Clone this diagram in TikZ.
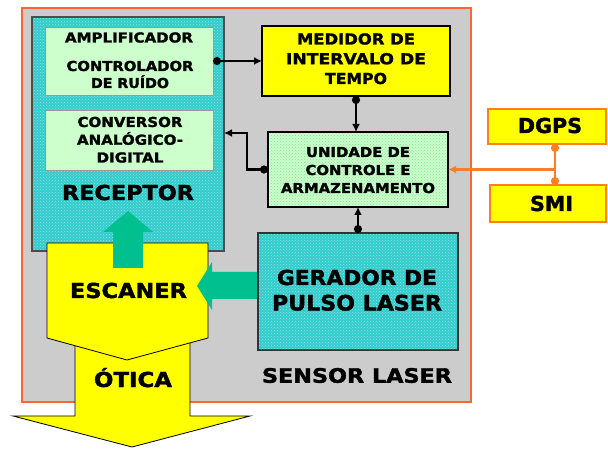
\documentclass[tikz,border=0pt]{standalone}
\usepackage{fontspec}
\setmainfont{DejaVu Sans}[BoldFeatures={FakeBold=1.6}]
\usepackage{graphicx}
\usetikzlibrary{arrows.meta,patterns}
\definecolor{graybg}{HTML}{CCCCCC}
\definecolor{orangeb}{HTML}{FF6633}
\definecolor{orangel}{HTML}{FF8022}
\definecolor{tealbox}{HTML}{33CCCC}
\definecolor{tealdot}{HTML}{8FE3E3}
\definecolor{lgreen}{HTML}{CCFFCC}
\definecolor{gdot}{HTML}{7FE890}
\definecolor{yel}{HTML}{FFFF00}
\definecolor{arrowteal}{HTML}{00C08F}
\newcommand\capfit[3]{\resizebox{#1pt}{#2pt}{\raisebox{0pt}[\fontcharht\font`E][0pt]{#3}}}
\newcommand\bsk[1]{\bfseries\fontsize{10pt}{#1pt}\selectfont}
\tikzset{
  box/.style={rectangle, inner sep=0pt, outer sep=0pt},
  lbl/.style={inner sep=0pt, outer sep=0pt, align=center},
  conn/.style={line width=2.6pt, {Circle[length=8pt]}-{Latex[length=8pt,width=8pt]}},
  oconn/.style={draw=orangel, line width=2.4pt},
  yshape/.style={fill=yel, draw=black, line width=0.8pt},
  tarrow/.style={fill=arrowteal, draw=none},
}
\begin{document}
\begin{tikzpicture}[x=1pt,y=-1pt]
\useasboundingbox (0,0) rectangle (608,449);
\fill[white] (0,0) rectangle (608,449);
% outer frame
\node[box, draw=orangeb, fill=graybg, line width=2.8pt, minimum width=449pt, minimum height=394pt] (outer) at (246.5,205) {};
% receptor
\node[box, fill=tealbox, draw=black!70, line width=1.2pt, minimum width=192pt, minimum height=234pt] (rec) at (128,134) {};
\node[box, pattern=crosshatch dots, pattern color=tealdot, minimum width=190pt, minimum height=232pt] (recpat) at (128,134) {};
\node[box, fill=lgreen, draw=black!40, line width=0.4pt, minimum width=168pt, minimum height=68pt] (amp) at (129,61) {};
\node[box, fill=lgreen, draw=black!40, line width=0.4pt, minimum width=168pt, minimum height=60pt] (conv) at (129,140) {};
\node[lbl, font=\bsk{12}] (amptxt) at (129,37.5) {\capfit{128}{10}{AMPLIFICADOR}};
\node[lbl, font=\bsk{17}] (ctrltxt) at (130,74.5) {\capfit{127}{10}{CONTROLADOR}\\\capfit{78}{10}{DE RUÍDO}};
\node[lbl, font=\bsk{17.75}] (convtxt) at (130,139.75) {\capfit{105}{10}{CONVERSOR}\\\capfit{106}{10}{ANALÓGICO-}\\\capfit{67}{10}{DIGITAL}};
\node[lbl, font=\bsk{12}] (rectxt) at (128,192.5) {\capfit{132}{15}{RECEPTOR}};
% medidor
\node[box, fill=yel, draw=black, line width=1.8pt, minimum width=188pt, minimum height=70pt] (med) at (356,61) {};
\node[lbl, font=\bsk{19.75}] (medtxt) at (356,58.75) {\capfit{118}{11}{MEDIDOR DE}\\\capfit{140}{11}{INTERVALO DE}\\\capfit{62}{11}{TEMPO}};
% unidade
\node[box, fill=lgreen, draw=black, line width=2.4pt, minimum width=180pt, minimum height=75pt] (uni) at (358,169.5) {};
\node[box, pattern=crosshatch dots, pattern color=gdot, minimum width=176pt, minimum height=71pt] (unipat) at (358,169.5) {};
\node[lbl, font=\bsk{18}] (unitxt) at (358,170) {\capfit{104}{10}{UNIDADE DE}\\\capfit{105}{10}{CONTROLE E}\\\capfit{154}{10}{ARMAZENAMENTO}};
% otica arrow and escaner
\path[yshape] (75,335) -- (190,335) -- (190,416) -- (250,416) -- (132,447) -- (13,416) -- (75,416) -- cycle;
\path[yshape] (47,243) -- (208,243) -- (208,338) -- (127,360) -- (47,338) -- cycle;
\node[lbl, font=\bsk{12}] (esctxt) at (128.5,290.5) {\capfit{117}{15}{ESCANER}};
\node[lbl, font=\bsk{12}] (otitxt) at (133,379.5) {\capfit{78}{15}{ÓTICA}};
% teal arrows
\path[tarrow] (113,268) -- (113,232) -- (103,232) -- (128,211) -- (153,232) -- (143,232) -- (143,268) -- cycle;
\path[tarrow] (260,272) -- (212,272) -- (212,262) -- (197,286) -- (212,310) -- (212,299) -- (260,299) -- cycle;
% gerador
\node[box, fill=tealbox, draw=black!80, line width=1.2pt, minimum width=200pt, minimum height=117pt] (ger) at (358,291.5) {};
\node[box, pattern=crosshatch dots, pattern color=tealdot, minimum width=198pt, minimum height=115pt] (gerpat) at (358,291.5) {};
\node[lbl, font=\bsk{25.5}] (gertxt) at (357,290.25) {\capfit{160}{15}{GERADOR DE}\\\capfit{170}{15.5}{PULSO LASER}};
\node[lbl, font=\bsk{12}] (sentxt) at (357,375.5) {\capfit{190}{14.5}{SENSOR LASER}};
% DGPS / SMI
\node[box, fill=yel, draw=orangel, line width=2.4pt, minimum width=118pt, minimum height=35pt] (dgps) at (547,126.5) {};
\node[box, fill=yel, draw=orangel, line width=2.4pt, minimum width=116pt, minimum height=37pt] (smi) at (548,203.5) {};
\node[lbl, font=\bsk{12}] (dgpstxt) at (550,125.5) {\capfit{64}{15}{DGPS}};
\node[lbl, font=\bsk{12}] (smitxt) at (551.5,203.5) {\capfit{43}{15}{SMI}};
% connectors
\draw[conn] (amp.east) -- (med.west);
\draw[conn] (med.south) -- (med.south |- uni.north);
\coordinate (bend) at (247,133);
\draw[conn] (uni.west) -| (bend) -- (bend -| rec.east);
\draw[conn] (ger.north) -- (ger.north |- uni.south);
\coordinate (otop) at (555,144);
\coordinate (obot) at (555,185);
\draw[oconn, {Circle[length=8pt]}-{Circle[length=8pt]}] (otop) -- (obot);
\draw[oconn, -{Latex[length=8pt,width=8pt]}] (otop |- uni.east) -- (uni.east);
\end{tikzpicture}
\end{document}
